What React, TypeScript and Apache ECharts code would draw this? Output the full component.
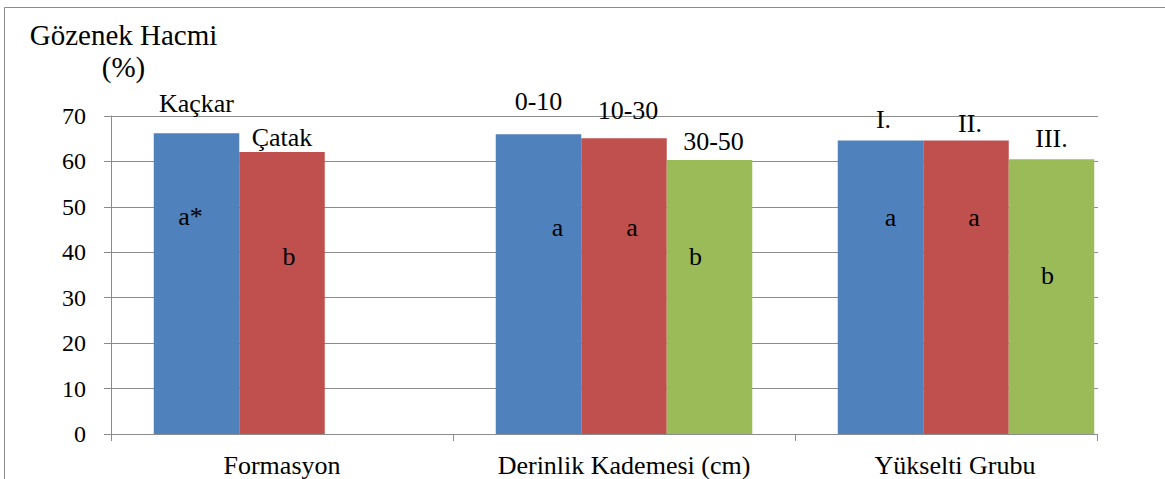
import React, { useEffect, useRef } from "react";
import * as echarts from "echarts";

// Pore volume (%) by formation, depth class and elevation group
const categories = ["Formasyon", "Derinlik Kademesi (cm)", "Yükselti Grubu"];
const blueValues = [66.2, 66.0, 64.6];
const redValues = [62.1, 65.1, 64.6];
const greenValues: (number | string)[] = ["-", 60.3, 60.5];

// group names printed above each bar
const blueNames = ["Kaçkar", "0-10", "I."];
const redNames = ["Çatak", "10-30", "II."];
const greenNames = ["", "30-50", "III."];

// significance letters printed inside each bar
const blueLetters = ["a*", "a", "a"];
const redLetters = ["b", "a", "a"];
const greenLetters = ["", "b", "b"];

const yMin = 0;
const yMax = 70;
const yStep = 10;

// label nudges (px) relative to their default anchor
const blueNameOffsets = [[0, -17], [0, -20], [3, -8]];
const redNameOffsets = [[0, -1], [4, -15], [4, -4]];
const greenNameOffsets = [[0, 0], [4, -6], [0, -8]];
const blueLetterOffsets = [[-6, -67], [19, -57], [10, -70]];
const redLetterOffsets = [[7, -36], [8, -59], [8, -70]];
const greenLetterOffsets = [[0, 0], [-14, -41], [-4, -21]];

const FONT = "serif";
const GRID_COLOR = "#8c8c8c";
const COLORS = ["#4F81BD", "#C0504D", "#9BBB59"];

function barSeries(
  values: (number | string)[],
  letters: string[],
  offsets: number[][],
  color: string
) {
  return {
    type: "bar",
    xAxisIndex: 0,
    barGap: "0%",
    barCategoryGap: "25%",
    itemStyle: { color },
    label: {
      show: true,
      position: "inside",
      color: "#000",
      fontFamily: FONT,
      fontSize: 26,
      formatter: (p: any) => letters[p.dataIndex],
    },
    data: values.map((v, i) => ({
      value: v,
      label: { offset: offsets[i] },
    })),
  };
}

function nameSeries(
  values: (number | string)[],
  names: string[],
  offsets: number[][]
) {
  return {
    type: "bar",
    xAxisIndex: 1,
    barGap: "0%",
    barCategoryGap: "25%",
    silent: true,
    itemStyle: { color: "rgba(0,0,0,0)" },
    label: {
      show: true,
      position: "top",
      distance: 0,
      color: "#000",
      fontFamily: FONT,
      fontSize: 26,
      formatter: (p: any) => names[p.dataIndex],
    },
    data: values.map((v, i) => ({
      value: v,
      label: { offset: offsets[i] },
    })),
  };
}

export default function App() {
  const ref = useRef<HTMLDivElement>(null);

  useEffect(() => {
    document.body.style.margin = "0";
    if (!ref.current) return;
    const chart = echarts.init(ref.current, undefined, { renderer: "svg" });
    chart.setOption({
      animation: false,
      backgroundColor: "#fff",
      textStyle: { fontFamily: FONT },
      grid: { left: 111, top: 116, right: 28, bottom: 45 },
      xAxis: [
        {
          type: "category",
          data: categories,
          axisLine: { show: true, lineStyle: { color: GRID_COLOR, width: 1 } },
          axisTick: {
            show: true,
            length: 7,
            interval: 0,
            lineStyle: { color: GRID_COLOR },
          },
          axisLabel: {
            interval: 0,
            margin: 18,
            color: "#000",
            fontFamily: FONT,
            fontSize: 26,
            formatter: (v: string, i: number) => (i === 2 ? `{s|${v}}` : v),
            rich: {
              s: {
                color: "#000",
                fontFamily: FONT,
                fontSize: 26,
                padding: [0, 22, 0, 0],
              },
            },
          },
          splitLine: { show: false },
        },
        {
          type: "category",
          data: categories,
          show: false,
        },
      ],
      yAxis: {
        type: "value",
        min: yMin,
        max: yMax,
        interval: yStep,
        name: "Gözenek Hacmi\n(%)",
        nameLocation: "end",
        nameGap: 33,
        nameTextStyle: {
          color: "#000",
          fontFamily: FONT,
          fontSize: 29,
          lineHeight: 32,
          align: "center",
          padding: [0, 0, 0, 25],
        },
        axisLine: { show: true, lineStyle: { color: GRID_COLOR, width: 1 } },
        axisTick: { show: true, length: 7, lineStyle: { color: GRID_COLOR } },
        axisLabel: {
          margin: 25,
          color: "#000",
          fontFamily: FONT,
          fontSize: 24,
        },
        splitLine: { show: true, lineStyle: { color: GRID_COLOR, width: 1 } },
      },
      graphic: [
        // trims the plot on the right side, as in the printed figure
        {
          type: "rect",
          z: 100,
          shape: { x: 1098, y: 0, width: 80, height: 479 },
          style: { fill: "#fff" },
        },
        {
          type: "line",
          z: 101,
          shape: { x1: 1097.5, y1: 434, x2: 1097.5, y2: 441 },
          style: { stroke: GRID_COLOR, lineWidth: 1 },
        },
        // outer frame of the chart area
        {
          type: "rect",
          z: 101,
          shape: { x: 4.5, y: 7.5, width: 1300, height: 600 },
          style: { fill: "none", stroke: "#8a8a8a", lineWidth: 1 },
        },
      ],
      series: [
        barSeries(blueValues, blueLetters, blueLetterOffsets, COLORS[0]),
        barSeries(redValues, redLetters, redLetterOffsets, COLORS[1]),
        barSeries(greenValues, greenLetters, greenLetterOffsets, COLORS[2]),
        nameSeries(blueValues, blueNames, blueNameOffsets),
        nameSeries(redValues, redNames, redNameOffsets),
        nameSeries(greenValues, greenNames, greenNameOffsets),
      ],
    });
    return () => chart.dispose();
  }, []);

  return <div ref={ref} style={{ width: 1165, height: 479 }} />;
}
